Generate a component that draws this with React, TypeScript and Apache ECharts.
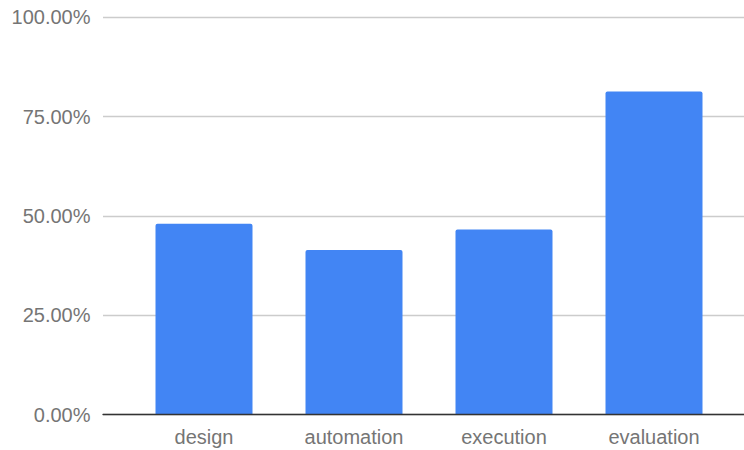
import React, { useEffect, useRef } from "react";
import * as echarts from "echarts";

const categories = ["design", "automation", "execution", "evaluation"];
const values = [48.0, 41.4, 46.6, 81.3];
const yTicks = [0, 25, 50, 75, 100];

export default function App() {
  const ref = useRef<HTMLDivElement>(null);
  useEffect(() => {
    if (!ref.current) return;
    const chart = echarts.init(ref.current, undefined, { renderer: "svg" });
    const font = "Arial, 'Liberation Sans', sans-serif";
    chart.setOption({
      animation: false,
      backgroundColor: "#ffffff",
      grid: [
        { left: 103, right: 0, top: 17.3, bottom: 35.5 },
        { left: 129, width: 600, top: 17.3, bottom: 35.5 },
      ],
      xAxis: [
        {
          gridIndex: 0,
          type: "value",
          min: 0,
          max: 1,
          z: 5,
          axisLine: { show: true, lineStyle: { color: "#333333", width: 1.3 } },
          axisTick: { show: false },
          axisLabel: { show: false },
          splitLine: { show: false },
        },
        {
          gridIndex: 1,
          type: "category",
          data: categories,
          axisLine: { show: false },
          axisTick: { show: false },
          axisLabel: {
            color: "#757575",
            fontSize: 20,
            fontFamily: font,
            margin: 12,
          },
        },
      ],
      yAxis: [
        {
          gridIndex: 0,
          type: "value",
          min: yTicks[0],
          max: yTicks[yTicks.length - 1],
          interval: 25,
          axisLine: { show: false },
          axisTick: { show: false },
          axisLabel: {
            color: "#757575",
            fontSize: 20,
            fontFamily: font,
            margin: 12.5,
            formatter: (v: number) => v.toFixed(2) + "%",
          },
          splitLine: { show: true, lineStyle: { color: "#cccccc", width: 1.3 } },
        },
        {
          gridIndex: 1,
          type: "value",
          min: 0,
          max: 100,
          show: false,
          splitLine: { show: false },
        },
      ],
      series: [
        {
          type: "bar",
          xAxisIndex: 1,
          yAxisIndex: 1,
          data: values,
          barWidth: 97,
          itemStyle: { color: "#4285f4", borderRadius: [2, 2, 0, 0] },
        },
      ],
    });
    return () => chart.dispose();
  }, []);
  return (
    <div
      ref={ref}
      style={{ position: "fixed", left: 0, top: 0, width: 744, height: 450 }}
    />
  );
}
